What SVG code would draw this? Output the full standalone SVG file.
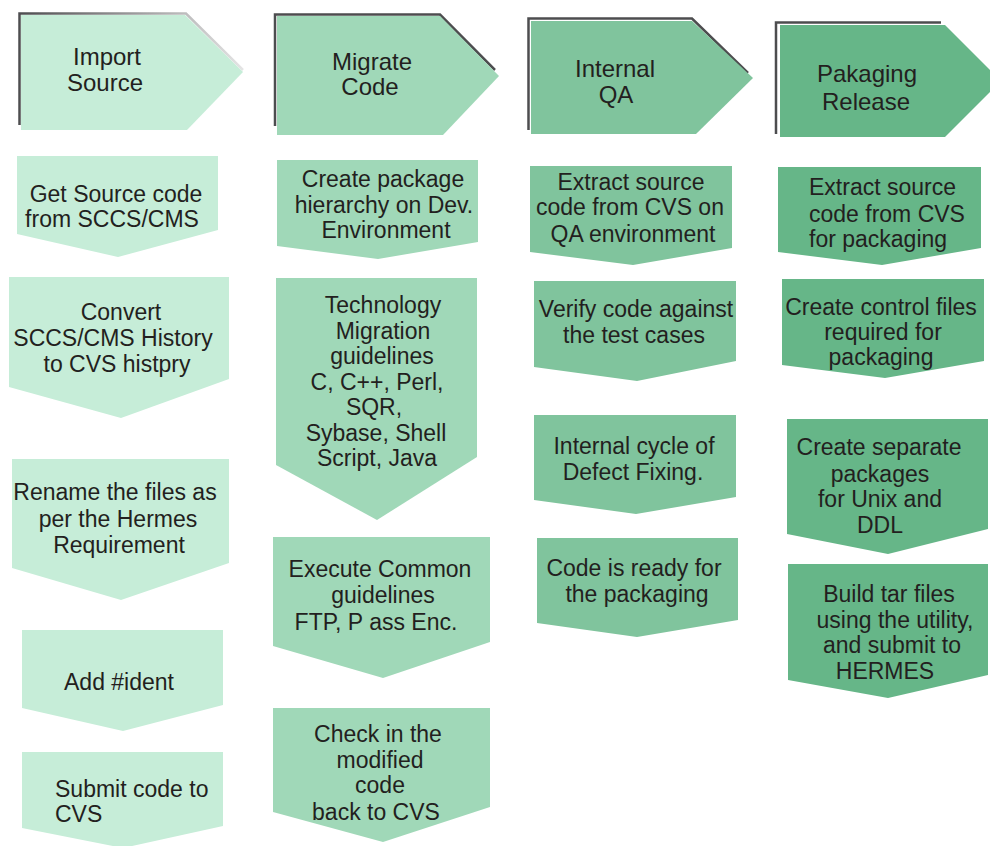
<svg xmlns="http://www.w3.org/2000/svg" width="990" height="846" viewBox="0 0 990 846">
<style>
text{font-family:"Liberation Sans",Arial,sans-serif;font-size:23px;fill:#231F20;text-anchor:middle}
.hd text{font-size:24px}
.l{text-anchor:start}
.c1{fill:#C6EDD8}.c2{fill:#A0D8B8}.c3{fill:#80C49D}.c4{fill:#66B688}
.sh{fill:none;stroke:#4D4D4F;stroke-width:2.5}
</style>
<defs>
<linearGradient id="fade" x1="0" y1="0" x2="1" y2="0">
<stop offset="0" stop-color="#4D4D4F"/><stop offset="1" stop-color="#4D4D4F" stop-opacity="0.15"/>
</linearGradient>
</defs>
<rect width="990" height="846" fill="#FFFFFF"/>
<g id="connectors"/>

<g id="h1" class="hd">
<path d="M19.5,125 V13.5 H186 L243,70" fill="none" stroke="url(#fade)" stroke-width="2.5"/>
<polygon class="c1" points="21,15 185,15 243,72 187,130 21,130"/>
<text x="107" y="65">Import</text><text x="105" y="91">Source</text>
</g>
<g id="h2" class="hd">
<path class="sh" d="M275,126 V14.5 H440 L495,70"/>
<polygon class="c2" points="277,16 440,16 499,76 443,135 277,135"/>
<text x="372" y="70">Migrate</text><text x="370" y="95">Code</text>
</g>
<g id="h3" class="hd">
<path class="sh" d="M528.5,130 V18.5 H692 L748,73"/>
<polygon class="c3" points="531,21 692,21 753,78 696,134 531,134"/>
<text x="615" y="77">Internal</text><text x="616" y="103">QA</text>
</g>
<g id="h4" class="hd">
<path class="sh" d="M776,134 V22.5 H941"/>
<polygon class="c4" points="780,25 945,25 1001,81 945,137 780,137"/>
<text x="867" y="82">Pakaging</text><text x="866" y="110">Release</text>
</g>

<g id="s1a">
<polygon class="c1" points="17,156 218,156 218,230 118,257 17,234"/>
<text x="116" y="202">Get Source code</text><text x="112" y="227">from SCCS/CMS</text>
</g>
<g id="s1b">
<polygon class="c1" points="9,277 229,277 229,379 121,418 9,387"/>
<text x="121" y="320">Convert</text><text x="113" y="346">SCCS/CMS History</text><text x="117" y="372">to CVS histpry</text>
</g>
<g id="s1c">
<polygon class="c1" points="12,459 229,459 229,563 121,600 12,568"/>
<text x="115" y="500">Rename the files as</text><text x="118" y="527">per the Hermes</text><text x="119" y="553">Requirement</text>
</g>
<g id="s1d">
<polygon class="c1" points="22,630 223,630 223,705 123,731 22,708"/>
<text x="119" y="690">Add #ident</text>
</g>
<g id="s1e">
<polygon class="c1" points="22,752 223,752 223,826 123,848 22,828"/>
<text class="l" x="55" y="797">Submit code to</text><text class="l" x="55" y="822">CVS</text>
</g>

<g id="s2a">
<polygon class="c2" points="277,160 478,160 478,242 378,259 277,246"/>
<text x="383" y="187">Create package</text><text x="384" y="213">hierarchy on Dev.</text><text x="386" y="238">Environment</text>
</g>
<g id="s2b">
<polygon class="c2" points="276,278 477,278 477,457 377,520 276,465"/>
<text x="383" y="313">Technology</text><text x="383" y="339">Migration</text><text x="382" y="364">guidelines</text><text x="377" y="390">C, C++, Perl,</text><text x="374" y="415">SQR,</text><text x="376" y="441">Sybase, Shell</text><text x="377" y="466">Script, Java</text>
</g>
<g id="s2c">
<polygon class="c2" points="273,537 490,537 490,642 383,678 273,646"/>
<text x="380" y="577">Execute Common</text><text x="383" y="603">guidelines</text><text x="376" y="630">FTP, P ass Enc.</text>
</g>
<g id="s2d">
<polygon class="c2" points="273,708 490,708 490,807 383,842 273,812"/>
<text x="378" y="742">Check in the</text><text x="380" y="768">modified</text><text x="380" y="793">code</text><text x="376" y="820">back to CVS</text>
</g>

<g id="s3a">
<polygon class="c3" points="530,166 732,166 732,248 633,265 530,252"/>
<text x="631" y="190">Extract source</text><text x="630" y="215">code from CVS on</text><text x="633" y="242">QA environment</text>
</g>
<g id="s3b">
<polygon class="c3" points="534,281 736,281 736,361 637,381 534,367"/>
<text x="636" y="317">Verify code against</text><text x="634" y="343">the test cases</text>
</g>
<g id="s3c">
<polygon class="c3" points="534,415 736,415 736,497 636,514 534,500"/>
<text x="634" y="454">Internal cycle of</text><text x="633" y="480">Defect Fixing.</text>
</g>
<g id="s3d">
<polygon class="c3" points="537,538 738,538 738,620 637,637 537,623"/>
<text x="634" y="576">Code is ready for</text><text x="637" y="602">the packaging</text>
</g>

<g id="s4a">
<polygon class="c4" points="778,167 981,167 981,248 882,265 778,252"/>
<text class="l" x="809" y="195">Extract source</text><text class="l" x="809" y="222">code from CVS</text><text class="l" x="809" y="247">for packaging</text>
</g>
<g id="s4b">
<polygon class="c4" points="782,279 984,279 984,361 885,378 782,365"/>
<text x="881" y="315">Create control files</text><text x="883" y="340">required for</text><text x="881" y="365">packaging</text>
</g>
<g id="s4c">
<polygon class="c4" points="787,419 988,419 988,529 888,554 787,534"/>
<text x="879" y="455">Create separate</text><text x="880" y="482">packages</text><text x="880" y="507">for Unix and</text><text x="880" y="533">DDL</text>
</g>
<g id="s4d">
<polygon class="c4" points="788,564 988,564 988,675 888,698 788,680"/>
<text x="889" y="602">Build tar files</text><text x="895" y="628">using the utility,</text><text x="892" y="653">and submit to</text><text x="885" y="679">HERMES</text>
</g>
</svg>
